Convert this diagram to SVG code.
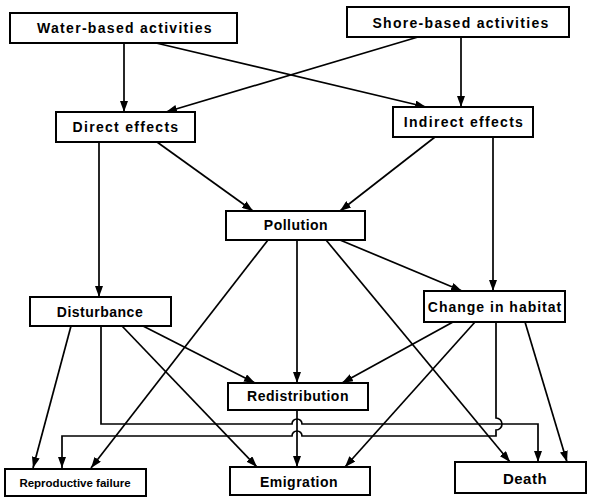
<svg xmlns="http://www.w3.org/2000/svg" width="591" height="498" viewBox="0 0 591 498">
<defs>
<marker id="ah" markerUnits="userSpaceOnUse" markerWidth="11" markerHeight="8" refX="11" refY="4" orient="auto">
<path d="M0,0 L11,4 L0,8 z" fill="#000"/>
</marker>
<style>
.box{fill:#fff;stroke:#000;stroke-width:2}
.t{font-family:"Liberation Sans",Arial,sans-serif;font-weight:bold;font-size:14px;text-anchor:middle;fill:#000;letter-spacing:0.5px}
.w{letter-spacing:1.3px}
.s{font-size:11.5px;letter-spacing:0}
.c{fill:none;stroke:#000;stroke-width:1.7}
.a{marker-end:url(#ah)}
</style>
</defs>
<rect width="591" height="498" fill="#fff"/>
<g id="connectors">
<line class="c a" x1="124" y1="43" x2="124" y2="112"/>
<line class="c a" x1="156" y1="43" x2="426" y2="107"/>
<line class="c a" x1="418" y1="37" x2="166" y2="112"/>
<line class="c a" x1="461" y1="37" x2="461" y2="107"/>
<line class="c a" x1="157" y1="142" x2="253" y2="211"/>
<line class="c a" x1="99" y1="142" x2="99" y2="297"/>
<line class="c a" x1="435" y1="137" x2="340" y2="211"/>
<line class="c a" x1="493" y1="137" x2="493" y2="291"/>
<line class="c a" x1="340" y1="240" x2="462" y2="291"/>
<line class="c a" x1="268" y1="240" x2="91" y2="468"/>
<line class="c a" x1="297" y1="240" x2="297" y2="383"/>
<line class="c a" x1="326" y1="240" x2="510" y2="462"/>
<line class="c a" x1="71" y1="326" x2="33" y2="468"/>
<line class="c a" x1="143" y1="326" x2="255" y2="383"/>
<line class="c a" x1="122" y1="326" x2="257" y2="467"/>
<line class="c a" x1="453" y1="322" x2="342" y2="383"/>
<line class="c a" x1="475" y1="322" x2="345" y2="467"/>
<line class="c a" x1="525" y1="322" x2="567" y2="462"/>
<line class="c a" x1="297" y1="410" x2="297" y2="467"/>
<path class="c a" d="M101,326 V424 H292 a5,5 0 0 1 10,0 H538 V462"/>
<path class="c a" d="M496,322 V418 a6,6 0 0 1 0,12 V436 H302 a5,5 0 0 0 -10,0 H62 V468"/>
</g>
<g id="water"><rect class="box" x="10" y="13" width="227" height="30"/><text class="t w" x="125" y="33">Water-based activities</text></g>
<g id="shore"><rect class="box" x="347" y="7" width="222" height="30"/><text class="t w" x="461" y="28">Shore-based activities</text></g>
<g id="direct"><rect class="box" x="56" y="112" width="139" height="30"/><text class="t w" x="126" y="132">Direct effects</text></g>
<g id="indirect"><rect class="box" x="393" y="107" width="140" height="30"/><text class="t w" x="464" y="127">Indirect effects</text></g>
<g id="pollution"><rect class="box" x="226" y="211" width="139" height="29"/><text class="t" x="296" y="230">Pollution</text></g>
<g id="disturbance"><rect class="box" x="30" y="297" width="141" height="29"/><text class="t" x="100" y="317">Disturbance</text></g>
<g id="change"><rect class="box" x="424" y="291" width="141" height="31"/><text class="t" x="495" y="312" style="letter-spacing:1px">Change in habitat</text></g>
<g id="redistribution"><rect class="box" x="228" y="383" width="140" height="27"/><text class="t" x="298" y="401">Redistribution</text></g>
<g id="reproductive"><rect class="box" x="5" y="469" width="141" height="27"/><text class="t s" x="75" y="487">Reproductive failure</text></g>
<g id="emigration"><rect class="box" x="230" y="467" width="140" height="28"/><text class="t" x="299" y="487">Emigration</text></g>
<g id="death"><rect class="box" x="455" y="462" width="131" height="31"/><text class="t" x="525" y="484" style="font-size:15px">Death</text></g>
</svg>
